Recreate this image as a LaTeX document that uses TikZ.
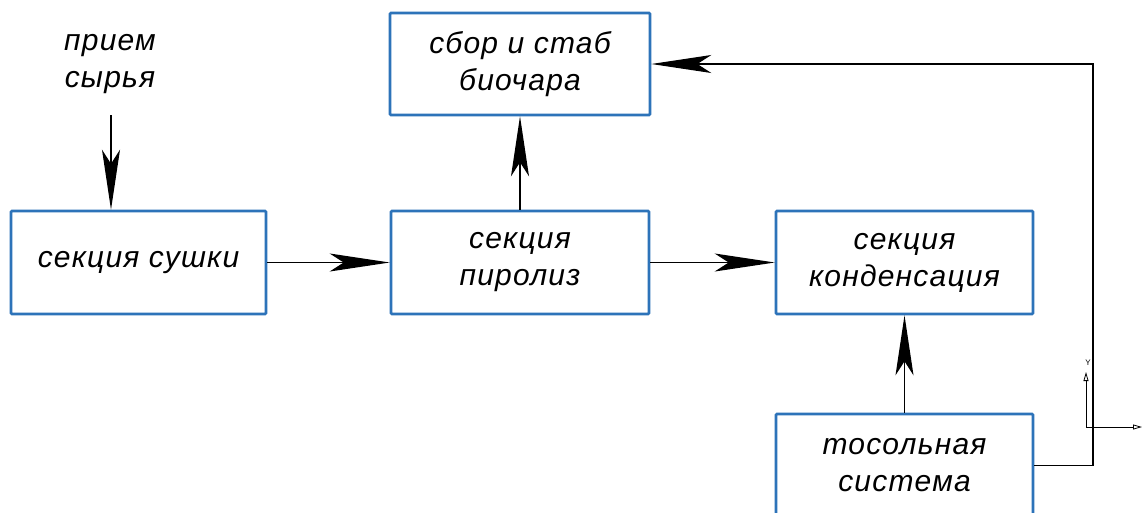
\documentclass[tikz,border=0pt]{standalone}
\usepackage{fontspec}
\setmainfont{Liberation Sans}
\newfontfamily\diagfont[LetterSpace=4]{Liberation Sans}
\usetikzlibrary{arrows.meta}
\definecolor{boxblue}{RGB}{45,115,185}
\tikzset{
  blk/.style={draw=boxblue, line width=2.6pt, rounded corners=1pt, fill=white,
    minimum width=257pt, minimum height=103pt, align=center, inner sep=0pt,
    font=\diagfont\fontsize{30}{37}\selectfont\itshape},
  conn/.style={draw=black, line width=1.4pt},
  bigtip/.style={-{Stealth[length=60pt,width=18pt,inset=14pt]}},
  lbl/.style={font=\diagfont\fontsize{30}{37}\selectfont\itshape, align=center, inner sep=0pt}
}
\begin{document}
\begin{tikzpicture}[x=1pt,y=-1pt]
\useasboundingbox (0,0) rectangle (1143,512);
\clip (0,0) rectangle (1143,512);
\fill[white] (0,0) rectangle (1143,512);
% boxes
\node[blk, minimum width=255pt] (dry) at (138.5,262.5) {секция сушки};
\node[blk, minimum width=258pt] (pyr) at (520,262.5) {секция\\пиролиз};
\node[blk] (cond) at (904.5,262.5) {секция\\конденсация};
\node[blk, minimum width=260pt, minimum height=102pt] (bio) at (520,64) {сбор и стаб\\биочара};
\node[blk] (tos) at (904.5,465.5) {тосольная\\система};
% feed label
\node[lbl] (feed) at (110,64) {прием\\сырья};
\coordinate (feedtop) at (111,115);
\draw[conn, bigtip] (feedtop) -- (feedtop |- dry.north);
% connectors
\draw[conn, bigtip] (dry.east) -- (pyr.west);
\draw[conn, bigtip] (pyr.east) -- (cond.west);
\draw[conn, bigtip] (pyr.north) -- (bio.south);
\draw[conn, bigtip] (tos.north) -- (cond.south);
\coordinate (ret) at (1093,0);
\draw[conn, bigtip, line width=1.2pt] (tos.east) -| (ret |- bio.east) -- (bio.east);
% UCS icon
\coordinate (ucs) at (1086,427);
\coordinate (ucsy) at (1086,372);
\coordinate (ucsx) at (1142,427);
\draw[line width=0.8pt, -{Triangle[open,length=9pt,width=5pt]}] (ucs) -- (ucsy);
\draw[line width=0.8pt, -{Triangle[open,length=9pt,width=5pt]}] (ucs) -- (ucsx);
\node[font=\fontsize{8}{8}\selectfont, inner sep=0pt] (ylab) at (1088,363) {Y};
\end{tikzpicture}
\end{document}
